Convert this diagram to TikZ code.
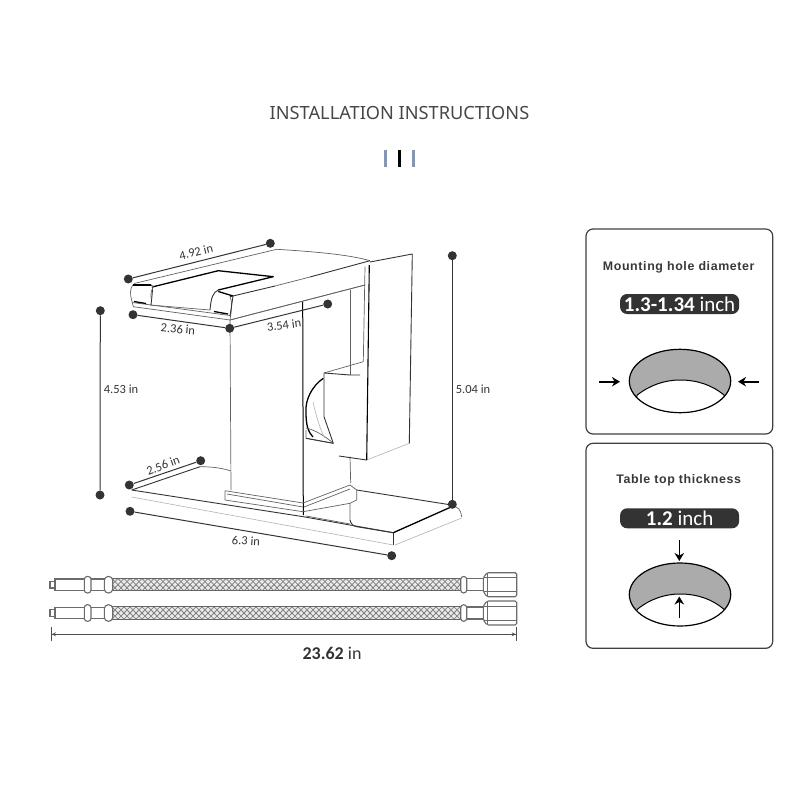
\documentclass[tikz,border=0pt]{standalone}
\usepackage{fontspec}
\setmainfont{Carlito}
\newfontfamily\titlefont{Noto Sans}
\newfontfamily\panelfont[LetterSpace=5]{Liberation Sans}
\usetikzlibrary{arrows.meta}
\definecolor{barblue}{HTML}{7F96BD}
\definecolor{ink}{HTML}{333333}
\tikzset{
  x=1pt,y=-1pt,
  fl/.style={draw=black!62,line width=.7pt,line join=round},
  fm/.style={draw=black!80,line width=.9pt,line join=round},
  fk/.style={draw=black,line width=1.3pt,line join=round},
  ff/.style={draw=black!30,line width=.6pt},
  dot/.style={circle,fill=ink,inner sep=0pt,minimum size=9pt},
  dimline/.style={draw=ink,line width=1pt},
  dimtext/.style={text=ink,font=\fontsize{12.5}{12.5}\selectfont,inner sep=0pt},
  panel/.style={draw=black!75,line width=1.2pt,rounded corners=7pt},
  pill/.style={fill=ink,rounded corners=7pt,minimum width=119pt,minimum height=20pt,inner sep=0pt,text=white,font=\fontsize{21}{21}\selectfont},
  ptitle/.style={text=black!78,inner sep=0pt,font=\panelfont\bfseries\fontsize{12.4}{13}\selectfont},
  hoseline/.style={draw=black!58,line width=1.1pt,fill=white},
  thickarrow/.style={draw=black,line width=1.6pt,-{Stealth[length=8pt,width=9.5pt]}},
}
\begin{document}
\begin{tikzpicture}
\useasboundingbox (0,0) rectangle (800,800);
% heading
\node[text=black!72,inner sep=0pt,font=\titlefont\fontsize{18.2}{19}\selectfont] (head) at (399.5,113) {INSTALLATION INSTRUCTIONS};
\fill[barblue] (384,150) rectangle (387,166.5);
\fill[black] (398,150) rectangle (401,166.5);
\fill[barblue] (412,150) rectangle (415,166.5);

% faucet spout
\path[fl] (135,283.3) -- (276.7,249.3);
\path[fl] (276.7,249.3) .. controls (320,252) and (350,255) .. (370,260.7);
\path[fm] (370,260.7) -- (310,277) (275,286) -- (230,296.7);
\path[fl] (310,277) -- (275,286);
\path[fl] (135,283.3) .. controls (131,286) and (130,290) .. (130.7,296) -- (133.3,306.7) -- (230,320) -- (365,285);
\path[fl] (132.5,302.5) -- (230,315.5);
\path[fl] (230,296.7) .. controls (232,300) and (232,308) .. (230,320);
\path[fk] (133.3,285) -- (151,285);
\path[fm] (151,285) .. controls (153,285) and (153,287) .. (151,305);
\path[fk] (153.3,286.7) -- (218.3,270.7) -- (273.3,276.7) -- (218.3,290);
\path[fl] (153.3,287) .. controls (151,290) and (151,292) .. (151,298);
\path[fm] (218.3,290) .. controls (213,292) and (211,298) .. (210,310);
\path[fk] (218.3,291.5) -- (233,296);
\path[fm] (233,296) .. controls (232,303) and (231,310) .. (230,316);
\path[fl] (150,305) -- (210,310);
\path[fk] (134,301.5) -- (146,303.5);
\path[fk] (214,311.5) -- (228,314);
% body
\path[fl] (230,320) -- (231,490);
\path[fk,line width=1pt] (302.7,301.7) -- (303.3,515);
\path[fl] (350,290) -- (350,375);
\path[fl] (350,456.7) -- (350.7,483);
\path[fl] (230,320) -- (365,285);
% back plate
\path[fm] (370,262) -- (412.3,254);
\path[fm] (412.3,254) -- (409.3,443.3);
\path[ff] (409.3,443.3) -- (366.7,460);
\path[fk,line width=1.1pt] (369.3,265) -- (366.7,460);
\path[fl] (365,266.7) -- (363.3,361.7);
% handle block
\path[fl] (324,373) -- (363.3,361.7);
\path[fm] (324,373) -- (350,375) (350,375) -- (360,375);
\path[fm] (324,373.3) -- (324,416.7) -- (333.3,443.3);
\path[fm] (339,456) -- (366.7,460);
\path[fk] (323.3,378.3) .. controls (312,386) and (305,400) .. (306,412) .. controls (306,425) and (308,432) .. (313,437);
\path[fl] (306,430) -- (306,438.3) -- (333.3,443.3);
\path[fl] (306,428) .. controls (315,430) and (325,436) .. (333.3,443.3);
\path[fm] (306,438.3) -- (333.3,443.3);
\path[ff] (313,402) .. controls (316,415) and (320,430) .. (325,438);

% base plate
\path[fl] (200,466.7) .. controls (212,466.7) and (222,468) .. (231,471);
\path[fm] (131.7,490) -- (200,466.7);
\path[fm] (131.7,490) -- (303.3,516.7) -- (393.3,532.7);
\path[fk] (393.3,532.7) -- (451.7,506.7);
\path[fm] (356.7,490) -- (451.7,505);
\path[fl] (451.7,506) .. controls (458,506) and (461,510) .. (461.7,517);
\path[fm] (393.3,532.7) -- (393.3,545);
\path[ff] (131.7,497) -- (393.3,545);
\path[ff] (395,545) -- (461.7,518);
\path[fl] (225,490.7) -- (303,503);
\path[fl] (225,491) -- (225,500) -- (303,511.7);
\path[fl] (227,494) -- (303,507);
\path[fl] (303,503) -- (350,485) -- (356.7,490) -- (356.7,500) -- (350,503.3) -- (350,520);
\path[fl] (303,511.7) -- (350,503.3);
\path[fl] (304,507) -- (350,489);
\path[fm] (350,520) .. controls (351,524) and (353,526) .. (356.7,526.7) -- (393.3,532.7);
\path[fl] (306,516) -- (350,524);

% dimension dots and lines
\node[dot] (a1) at (128.3,279) {};
\node[dot] (a2) at (270.3,243.3) {};
\node[dot] (b1) at (133,314.7) {};
\node[dot] (b2) at (229.7,328.3) {};
\node[dot] (c2) at (327.7,304) {};
\node[dot] (d1) at (100.3,310.7) {};
\node[dot] (d2) at (100,495) {};
\node[dot] (e1) at (452.3,255.7) {};
\node[dot] (e2) at (452.3,504.3) {};
\node[dot] (f1) at (129.3,485) {};
\node[dot] (f2) at (200.7,460.7) {};
\node[dot] (g1) at (130,511.3) {};
\node[dot] (g2) at (391.7,555.7) {};
\draw[dimline] (a1) -- (a2);
\draw[dimline] (b1) -- (b2);
\draw[dimline] (b2) -- (c2);
\draw[dimline] (d1) -- (d2);
\draw[dimline] (e1) -- (e2);
\draw[dimline] (f1) -- (f2);
\draw[dimline] (g1) -- (g2);
\node[dimtext,rotate=14] (t1) at (196,252) {4.92 in};
\node[dimtext,rotate=-5] (t2) at (178,329) {2.36 in};
\node[dimtext,rotate=8] (t3) at (284,325) {3.54 in};
\node[dimtext] (t4) at (121,389) {4.53 in};
\node[dimtext] (t5) at (473,389) {5.04 in};
\node[dimtext,rotate=20] (t6) at (163,465.5) {2.56 in};
\node[dimtext,rotate=-4] (t7) at (246,541) {6.3 in};

% hoses
\foreach \cy/\nm in {584.7/one,613/two}{
  \begin{scope}
    \path[clip] (112,\cy-6.2) rectangle (461,\cy+6.2);
    \fill[black!8] (112,\cy-6.2) rectangle (461,\cy+6.2);
    \foreach \bx in {100,106,...,466}{
      \draw[black!50,line width=.8pt] (\bx,\cy-6.2) -- (\bx+12,\cy+6.2);
      \draw[black!50,line width=.8pt] (\bx+12,\cy-6.2) -- (\bx,\cy+6.2);
    }
  \end{scope}
  \draw[black!60,line width=1.1pt] (112,\cy-6.2) -- (461,\cy-6.2) (112,\cy+6.2) -- (461,\cy+6.2);
  \path[hoseline] (50,\cy-3.3) rectangle (55,\cy+3.3);
  \path[hoseline] (55,\cy-5.7) rectangle (85,\cy+5.7);
  \path[hoseline] (90,\cy-5.7) rectangle (105,\cy+5.7);
  \path[hoseline,rounded corners=3pt] (84.3,\cy-8.3) rectangle (91,\cy+8.3);
  \path[hoseline,rounded corners=4pt] (104.3,\cy-8.3) rectangle (112.7,\cy+8.3);
  \path[hoseline] (466,\cy-6) rectangle (484,\cy+6);
  \path[hoseline,rounded corners=3pt] (460.7,\cy-8.3) rectangle (466.7,\cy+8.3);
  \path[hoseline,rounded corners=1.5pt] (487,\cy-12) -- (516.7,\cy-12) -- (516.7,\cy+12) -- (487,\cy+12) -- (483.3,\cy+7) -- (483.3,\cy-7) -- cycle;
  \draw[black!58,line width=.9pt] (483.5,\cy-7) -- (516.7,\cy-7) (483.5,\cy+7) -- (516.7,\cy+7) (487.3,\cy-12) -- (487.3,\cy+12);
}
% overall length
\coordinate (m1) at (51,634.3);
\coordinate (m2) at (516.7,634.3);
\draw[black!70,line width=.8pt,{Bar[width=14pt,line width=.9pt]Stealth[length=4pt,width=4pt,sep=0pt]}-{Stealth[length=4pt,width=4pt]Bar[width=14pt,line width=.9pt]}] (m1) -- (m2);
\node[dimtext,font=\fontsize{18}{18}\selectfont,text=ink] (total) at (332,653) {\textbf{23.62} in};

% panel 1
\draw[panel] (586,229) rectangle (772.7,434);
\node[ptitle] (p1t) at (678.7,267.5) {Mounting hole diameter};
\node[pill] (p1p) at (679.6,304) {\textbf{1.3-1.34} inch};
\coordinate (h1) at (680,381);
\begin{scope}
  \path[clip] (h1) ellipse [x radius=50.7pt,y radius=31.7pt];
  \fill[black!33] (h1) ellipse [x radius=50.7pt,y radius=31.7pt];
  \path[fill=white,draw=black,line width=1pt] (637.3,395) .. controls (650,385) and (665,380) .. (680,380) .. controls (697,380) and (712,385) .. (724,395) -- (735,420) -- (625,420) -- cycle;
\end{scope}
\draw[black,line width=1.2pt] (h1) ellipse [x radius=50.7pt,y radius=31.7pt];
\coordinate (a1s) at (599.3,381.7);
\coordinate (a1e) at (620,381.7);
\coordinate (a2s) at (758.7,381.7);
\coordinate (a2e) at (738,381.7);
\draw[thickarrow] (a1s) -- (a1e);
\draw[thickarrow] (a2s) -- (a2e);

% panel 2
\draw[panel] (586,443.3) rectangle (772.7,648.3);
\node[ptitle] (p2t) at (678.7,480) {Table top thickness};
\node[pill] (p2p) at (679.6,518.3) {\textbf{1.2} inch};
\coordinate (h2) at (680,594.5);
\begin{scope}
  \path[clip] (h2) ellipse [x radius=50.7pt,y radius=31.5pt];
  \fill[black!33] (h2) ellipse [x radius=50.7pt,y radius=31.5pt];
  \path[fill=white,draw=black,line width=1pt] (637.3,609.3) .. controls (650,599) and (665,594) .. (680,594) .. controls (697,594) and (712,599) .. (724,609.3) -- (735,635) -- (625,635) -- cycle;
\end{scope}
\draw[black,line width=1.2pt] (h2) ellipse [x radius=50.7pt,y radius=31.5pt];
\coordinate (a3s) at (679.3,540);
\coordinate (a3e) at (679.3,561);
\coordinate (a4s) at (679.3,618);
\coordinate (a4e) at (679.3,596.5);
\draw[thickarrow] (a3s) -- (a3e);
\draw[thickarrow] (a4s) -- (a4e);
\end{tikzpicture}
\end{document}
